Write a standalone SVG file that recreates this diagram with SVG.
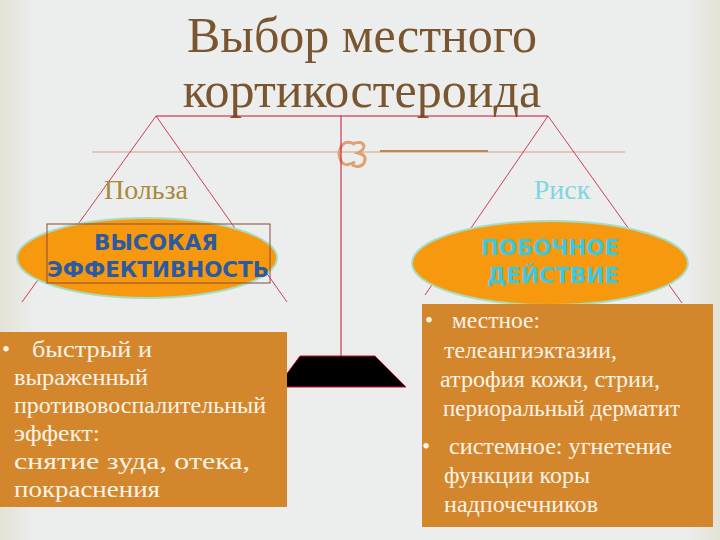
<svg xmlns="http://www.w3.org/2000/svg" width="720" height="540" viewBox="0 0 720 540">
<defs>
<linearGradient id="bg" x1="0" x2="1" y1="0" y2="0"><stop offset="0" stop-color="#e4e2d6"/><stop offset="0.05" stop-color="#eceeee"/><stop offset="0.95" stop-color="#eceeee"/><stop offset="1" stop-color="#e4e2d6"/></linearGradient>
</defs>
<style>
.t{font-family:"Liberation Serif",serif}
.box{fill:#d4862d}
.bt{font-family:"Liberation Serif",serif;font-size:23px;fill:#fbf3e6}
.cap{font-family:"DejaVu Sans Condensed","DejaVu Sans",sans-serif;font-weight:bold;font-size:21px;text-anchor:middle}
.red{stroke:#c8102e;fill:none}
</style>
<rect width="720" height="540" fill="url(#bg)"/>
<g id="title"><text class="t" x="362" y="52" font-size="50" fill="#7a5630" text-anchor="middle">Выбор местного</text>
<text class="t" x="362" y="107" font-size="50" fill="#7a5630" text-anchor="middle">кортикостероида</text></g>
<g id="ornament"><line x1="92" y1="152" x2="625" y2="152" stroke="#d8a07a" stroke-width="1"/>
<line x1="380" y1="151" x2="488" y2="151" stroke="#b88a5a" stroke-width="2"/>
<path d="M355 144 q-14 -6 -16 10 q2 16 16 8 M352 144 q10 -4 12 2 q0 4 -6 7 q10 2 6 10 q-4 6 -12 2" stroke="#e0a070" stroke-width="3" fill="none"/></g>
<g id="connectors">
<line class="red" x1="156" y1="116" x2="548" y2="116"/>
<line class="red" x1="341" y1="116" x2="341" y2="357"/>
<line class="red" x1="156" y1="116" x2="22" y2="302" stroke-width="0.8"/>
<line class="red" x1="156" y1="116" x2="287" y2="302" stroke-width="0.8"/>
<line class="red" x1="548" y1="116" x2="425" y2="295" stroke-width="0.8"/>
<line class="red" x1="548" y1="116" x2="682" y2="303" stroke-width="0.8"/>
</g>
<g id="benefit"><text class="t" x="146" y="199" font-size="28" fill="#a88a3a" text-anchor="middle">Польза</text></g>
<g id="risk"><text class="t" x="562" y="199" font-size="28" fill="#7fd6e0" text-anchor="middle">Риск</text></g>
<g id="left-pan"><ellipse cx="147" cy="258" rx="130" ry="40" fill="#f7990f" stroke="#a8dcc0" stroke-width="2"/>
<rect x="47" y="224" width="223" height="59" fill="none" stroke="#8a4a3a" stroke-width="1"/>
<text class="cap" x="156" y="250" fill="#2c5aa0" textLength="124" lengthAdjust="spacingAndGlyphs">ВЫСОКАЯ</text>
<text class="cap" x="158" y="277" fill="#2c5aa0" textLength="222" lengthAdjust="spacingAndGlyphs">ЭФФЕКТИВНОСТЬ</text></g>
<g id="right-pan"><ellipse cx="550" cy="263" rx="138" ry="42" fill="#f7990f" stroke="#a8dcc0" stroke-width="2"/>
<text class="cap" x="550" y="255" fill="#3cc8e0" textLength="138" lengthAdjust="spacingAndGlyphs">ПОБОЧНОЕ</text>
<text class="cap" x="553" y="283" fill="#3cc8e0" textLength="132" lengthAdjust="spacingAndGlyphs">ДЕЙСТВИЕ</text></g>
<g id="base"><polygon points="300,356 375,356 406,387 277,387" fill="#000" stroke="#c8102e" stroke-width="1"/></g>
<g id="left-box" lengthAdjust="spacingAndGlyphs"><rect class="box" x="0" y="332" width="287" height="175"/>
<text class="bt" x="2" y="357" fill="#fff">•</text>
<text class="bt" x="32" y="357" textLength="120" lengthAdjust="spacingAndGlyphs">быстрый и</text>
<text class="bt" x="14" y="385" textLength="134" lengthAdjust="spacingAndGlyphs">выраженный</text>
<text class="bt" x="14" y="413" textLength="252" lengthAdjust="spacingAndGlyphs">противовоспалительный</text>
<text class="bt" x="14" y="441" textLength="86" lengthAdjust="spacingAndGlyphs">эффект:</text>
<text class="bt" x="14" y="469" textLength="236" lengthAdjust="spacingAndGlyphs">снятие зуда, отека,</text>
<text class="bt" x="14" y="497" textLength="146" lengthAdjust="spacingAndGlyphs">покраснения</text></g>
<g id="right-box"><rect class="box" x="422" y="304" width="291" height="223"/>
<text class="bt" x="425" y="328" fill="#000">•</text>
<text class="bt" x="452" y="328" textLength="88" lengthAdjust="spacingAndGlyphs">местное:</text>
<text class="bt" x="444" y="358" textLength="173" lengthAdjust="spacingAndGlyphs">телеангиэктазии,</text>
<text class="bt" x="440" y="387" textLength="220" lengthAdjust="spacingAndGlyphs">атрофия кожи, стрии,</text>
<text class="bt" x="443" y="416" textLength="237" lengthAdjust="spacingAndGlyphs">периоральный дерматит</text>
<text class="bt" x="422" y="454" fill="#fff">•</text>
<text class="bt" x="449" y="454" textLength="223" lengthAdjust="spacingAndGlyphs">системное: угнетение</text>
<text class="bt" x="444" y="483" textLength="146" lengthAdjust="spacingAndGlyphs">функции коры</text>
<text class="bt" x="444" y="512" textLength="154" lengthAdjust="spacingAndGlyphs">надпочечников</text></g>
</svg>
